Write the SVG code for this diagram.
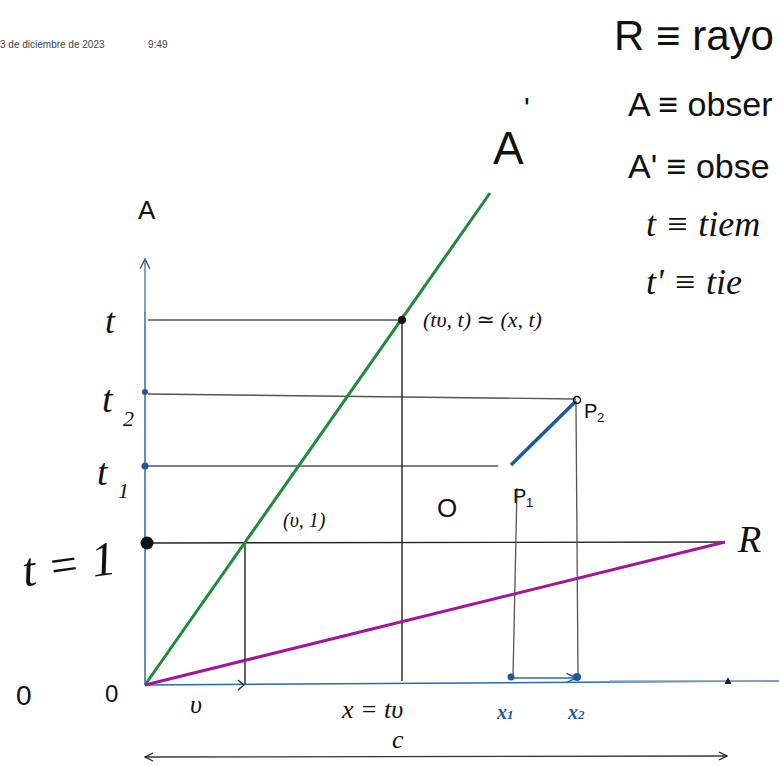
<svg xmlns="http://www.w3.org/2000/svg" width="779" height="766" viewBox="0 0 779 766">
<style>
.hw{font-family:"Liberation Sans","DejaVu Sans",sans-serif;fill:#111}
.mi{font-family:"Liberation Serif","DejaVu Serif",serif;font-style:italic;fill:#111}
.bl{fill:#1f5a98}
.grid{stroke:#555;stroke-width:1.3;fill:none}
.blk{stroke:#222;stroke-width:1.4;fill:none}
.axis{stroke:#2e6aa8;stroke-width:1.5;fill:none}
</style>
<defs>
<marker id="open" viewBox="0 0 10 10" refX="9" refY="5" markerWidth="10" markerHeight="10" markerUnits="userSpaceOnUse" orient="auto">
<path d="M1,1 L9,5 L1,9" fill="none" stroke="#222" stroke-width="1.3"/>
</marker>
<marker id="openb" viewBox="0 0 10 10" refX="9" refY="5" markerWidth="12" markerHeight="12" markerUnits="userSpaceOnUse" orient="auto">
<path d="M1,1 L9,5 L1,9" fill="none" stroke="#2e6aa8" stroke-width="1.3"/>
</marker>
<marker id="opens" viewBox="0 0 10 10" refX="1" refY="5" markerWidth="10" markerHeight="10" markerUnits="userSpaceOnUse" orient="auto">
<path d="M9,1 L1,5 L9,9" fill="none" stroke="#222" stroke-width="1.3"/>
</marker>
</defs>
<rect width="779" height="766" fill="#fff"/>

<text x="0" y="48" font-family="Liberation Sans, sans-serif" font-size="10" fill="#444">3 de diciembre de 2023</text>
<text x="148" y="48" font-family="Liberation Sans, sans-serif" font-size="10" fill="#444">9:49</text>

<g id="legend">
<text class="hw" x="614" y="50" font-size="42">R ≡ rayo</text>
<text class="hw" x="628" y="116" font-size="34">A ≡ obser</text>
<text class="hw" x="628" y="178" font-size="34">A' ≡ obse</text>
<text class="mi" x="646" y="236" font-size="36">t ≡ tiem</text>
<text class="mi" x="646" y="294" font-size="36">t' ≡ tie</text>
</g>

<g id="connectors">
<line class="grid" x1="148" y1="320" x2="402" y2="320"/>
<line class="grid" x1="148" y1="394" x2="576" y2="399"/>
<line class="grid" x1="148" y1="466" x2="498" y2="466"/>
<line class="blk" x1="147" y1="543" x2="725" y2="542"/>
<line class="blk" x1="245" y1="543" x2="245" y2="684"/>
<line class="blk" x1="402" y1="320" x2="402" y2="681"/>
<line class="grid" x1="517" y1="488" x2="513" y2="677"/>
<line class="grid" x1="576" y1="404" x2="578" y2="677"/>
<line class="axis" x1="145" y1="685" x2="145" y2="259" marker-end="url(#openb)"/>
<line x1="145" y1="262" x2="145" y2="312" stroke="#8fa8c8" stroke-width="1.6"/>
<line class="axis" x1="145" y1="685" x2="779" y2="681"/>
<line x1="610" y1="681" x2="779" y2="681" stroke="#8fa8c8" stroke-width="1.6"/>
<path d="M238,680 L244,685 L238,690" fill="none" stroke="#222" stroke-width="1.3"/>
<line x1="513" y1="678" x2="576" y2="678" stroke="#2e6aa8" stroke-width="1.6" marker-end="url(#openb)"/>
<line x1="145" y1="685" x2="490" y2="193" stroke="#1e8a3c" stroke-width="3"/>
<line x1="145" y1="685" x2="725" y2="542" stroke="#a3159a" stroke-width="3"/>
<line x1="511" y1="465" x2="576" y2="401" stroke="#1f5a98" stroke-width="3.5"/>
<line x1="145" y1="757" x2="727" y2="756" stroke="#333" stroke-width="1.3" marker-start="url(#opens)" marker-end="url(#open)"/>
<path d="M725,684 L728,678 L731,684" fill="#222" stroke="#222" stroke-width="1"/>
</g>

<g id="points">
<circle cx="402" cy="320" r="4" fill="#111"/>
<circle cx="577" cy="400" r="3.5" fill="none" stroke="#111" stroke-width="1.5"/>
<circle cx="147" cy="543" r="6.5" fill="#111"/>
<circle cx="145" cy="392" r="3" fill="#1f5a98"/>
<circle cx="145" cy="466" r="3.5" fill="#1f5a98"/>
<circle cx="511" cy="677" r="3.5" fill="#1f5a98"/>
<circle cx="577" cy="677" r="4" fill="#1f5a98"/>
</g>

<g id="labels">
<text class="hw" x="138" y="219" font-size="26">A</text>
<text class="hw" x="493" y="164" font-size="46">A</text>
<text class="hw" x="524" y="118" font-size="30">'</text>
<text class="mi" x="105" y="333" font-size="36">t</text>
<text class="mi" x="102" y="412" font-size="38">t</text>
<text class="mi" x="123" y="426" font-size="22">2</text>
<text class="mi" x="97" y="485" font-size="38">t</text>
<text class="mi" x="118" y="498" font-size="22">1</text>
<text class="mi" x="22" y="580" font-size="48" transform="rotate(-8 70 565)">t = 1</text>
<text class="hw" x="16" y="705" font-size="28">0</text>
<text class="hw" x="105" y="702" font-size="24">0</text>
<text class="mi" x="190" y="713" font-size="26">υ</text>
<text class="mi" x="283" y="527" font-size="20">(υ, 1)</text>
<text class="mi" x="423" y="327" font-size="22">(tυ, t) ≃ (x, t)</text>
<text class="hw" x="584" y="418" font-size="20">P</text>
<text class="hw" x="597" y="422" font-size="13">2</text>
<text class="hw" x="513" y="503" font-size="20">P</text>
<text class="hw" x="526" y="507" font-size="13">1</text>
<text class="hw" x="437" y="517" font-size="26">O</text>
<text class="mi" x="738" y="552" font-size="38">R</text>
<text class="mi" x="342" y="718" font-size="26">x = tυ</text>
<text class="mi" x="392" y="748" font-size="26">c</text>
<text class="mi bl" x="497" y="719" font-size="20" font-weight="bold">x<tspan font-size="13">1</tspan></text>
<text class="mi bl" x="568" y="719" font-size="20" font-weight="bold">x<tspan font-size="13">2</tspan></text>
</g>
</svg>
